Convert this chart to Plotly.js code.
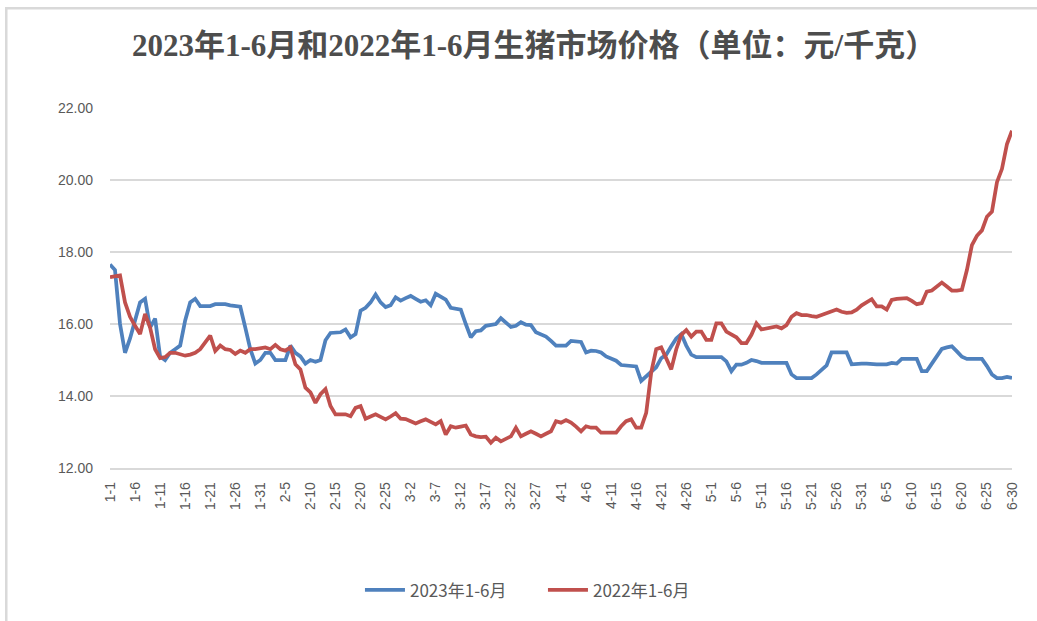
<!DOCTYPE html>
<html>
<head>
<meta charset="utf-8">
<script src="https://cdn.plot.ly/plotly-3.0.1.min.js"></script>
<style>
html,body{margin:0;padding:0;background:#fff;}
#chart{width:1037px;height:621px;}
</style>
</head>
<body>
<div id="chart"></div>
<script>
// Month lengths (2023) used to build the day categories "M-D"
const monthDays = [31, 28, 31, 30, 31, 30];
const categories = [];
monthDays.forEach(function (n, m) {
  for (let d = 1; d <= n; d++) categories.push((m + 1) + '-' + d);
});

const tickLabels = ['1-1','1-6','1-11','1-16','1-21','1-26','1-31','2-5','2-10','2-15','2-20','2-25',
  '3-2','3-7','3-12','3-17','3-22','3-27','4-1','4-6','4-11','4-16','4-21','4-26',
  '5-1','5-6','5-11','5-16','5-21','5-26','5-31','6-5','6-10','6-15','6-20','6-25','6-30'];

const seriesNames = ['2023年1-6月', '2022年1-6月'];

const price2023 = [
  17.65,17.5,16.0,15.2,15.6,16.1,16.6,16.7,15.9,16.15,
  15.1,15.0,15.2,15.3,15.4,16.1,16.6,16.7,16.5,16.5,
  16.5,16.55,16.55,16.55,16.52,16.5,16.48,15.9,15.3,14.9,
  15.0,15.2,15.2,15.0,15.0,15.0,15.4,15.2,15.1,14.9,
  15.0,14.95,15.0,15.55,15.75,15.77,15.77,15.85,15.63,15.72,
  16.37,16.45,16.6,16.82,16.6,16.47,16.52,16.74,16.65,16.72,
  16.78,16.7,16.62,16.66,16.52,16.84,16.76,16.68,16.45,16.42,
  16.4,16.0,15.63,15.8,15.82,15.95,15.97,16.0,16.16,16.05,
  15.92,15.95,16.05,15.98,15.97,15.77,15.72,15.65,15.53,15.4,
  15.4,15.4,15.53,15.52,15.5,15.21,15.26,15.25,15.21,15.1,
  15.05,14.98,14.86,14.84,14.84,14.82,14.42,14.55,14.65,14.8,
  15.05,15.15,15.38,15.6,15.72,15.4,15.15,15.08,15.08,15.08,
  15.08,15.08,15.08,14.96,14.69,14.87,14.87,14.92,15.0,14.97,
  14.92,14.92,14.92,14.92,14.92,14.92,14.6,14.5,14.5,14.5,
  14.5,14.6,14.72,14.85,15.21,15.21,15.21,15.21,14.88,14.9,
  14.9,14.9,14.88,14.88,14.88,14.88,14.92,14.9,15.03,15.03,
  15.03,15.03,14.69,14.69,14.9,15.1,15.31,15.35,15.38,15.24,
  15.09,15.03,15.03,15.03,15.03,14.83,14.6,14.5,14.5,14.53,14.5
];

const price2022 = [
  17.3,17.32,17.35,16.6,16.2,15.95,15.72,16.28,15.9,15.3,
  15.05,15.08,15.2,15.2,15.15,15.12,15.15,15.2,15.3,15.5,
  15.68,15.25,15.4,15.3,15.28,15.17,15.26,15.2,15.3,15.3,
  15.32,15.35,15.3,15.42,15.3,15.26,15.35,14.88,14.74,14.23,
  14.1,13.81,14.05,14.19,13.72,13.49,13.49,13.49,13.44,13.67,
  13.72,13.37,13.43,13.49,13.42,13.35,13.43,13.52,13.37,13.36,
  13.3,13.24,13.3,13.35,13.28,13.21,13.3,12.93,13.16,13.12,
  13.15,13.18,12.93,12.88,12.86,12.87,12.7,12.84,12.74,12.8,
  12.88,13.12,12.88,12.95,13.02,12.95,12.88,12.95,13.02,13.3,
  13.26,13.33,13.26,13.15,13.02,13.16,13.12,13.12,12.98,12.98,
  12.98,12.98,13.16,13.3,13.35,13.12,13.12,13.53,14.65,15.3,
  15.35,15.07,14.74,15.3,15.7,15.83,15.65,15.79,15.79,15.56,
  15.56,16.02,16.02,15.79,15.72,15.63,15.47,15.47,15.7,16.02,
  15.85,15.88,15.9,15.93,15.88,15.97,16.2,16.3,16.25,16.25,
  16.22,16.2,16.25,16.3,16.35,16.4,16.34,16.31,16.32,16.4,
  16.52,16.6,16.69,16.49,16.49,16.4,16.67,16.7,16.72,16.72,
  16.64,16.55,16.58,16.9,16.93,17.05,17.15,17.04,16.93,16.93,
  16.95,17.5,18.19,18.45,18.6,18.98,19.12,19.94,20.31,21.0,21.37
];

const colors = ['#4F81BD', '#C0504D'];

const traces = [price2023, price2022].map(function (vals, i) {
  return {
    type: 'scatter', mode: 'lines',
    x: categories, y: vals, name: seriesNames[i],
    line: {color: colors[i], width: 3.75}
  };
});

const layout = {
  width: 1037, height: 621,
  paper_bgcolor: '#ffffff', plot_bgcolor: '#ffffff',
  margin: {l: 110, r: 25, t: 108, b: 153},
  title: {
    text: '<b>2023年1-6月和2022年1-6月生猪市场价格（单位：元/千克）</b>',
    font: {family: '"Liberation Serif", "Noto Sans CJK SC", serif', size: 31, color: '#4D4D4D'},
    x: 0.515, xanchor: 'center', y: 0.927, yanchor: 'middle'
  },
  xaxis: {
    type: 'category',
    range: [0, 180],
    tickmode: 'array', tickvals: tickLabels, ticktext: tickLabels,
    tickangle: -90,
    tickfont: {family: '"Liberation Sans", "Noto Sans", sans-serif', size: 14, color: '#595959'},
    ticklabelstandoff: 7,
    showgrid: false, showline: true, linecolor: '#D9D9D9', linewidth: 1.5,
    ticks: '', zeroline: false
  },
  yaxis: {
    range: [12, 22], dtick: 2, tick0: 12,
    tickformat: '.2f',
    tickfont: {family: '"Liberation Sans", "Noto Sans", sans-serif', size: 14, color: '#595959'},
    showgrid: true, gridcolor: '#D9D9D9', gridwidth: 1.5,
    zeroline: false, showline: false, ticks: '',
    ticklabelstandoff: 16
  },
  legend: {
    orientation: 'h', x: 0.48, xanchor: 'center', y: -0.34, yanchor: 'middle',
    font: {family: '"Noto Sans CJK SC", "Liberation Sans", sans-serif', size: 17, color: '#595959'},
    itemwidth: 40, traceorder: 'normal',
    entrywidth: 128, entrywidthmode: 'pixels'
  },
  shapes: [{
    type: 'rect', xref: 'paper', yref: 'paper',
    x0: -0.115, x1: 1.1, y0: -0.5, y1: 1.277,
    line: {color: '#D9D9D9', width: 2.5}
  }],
  showlegend: true
};

Plotly.newPlot('chart', traces, layout, {displayModeBar: false, staticPlot: true});
</script>
</body>
</html>
